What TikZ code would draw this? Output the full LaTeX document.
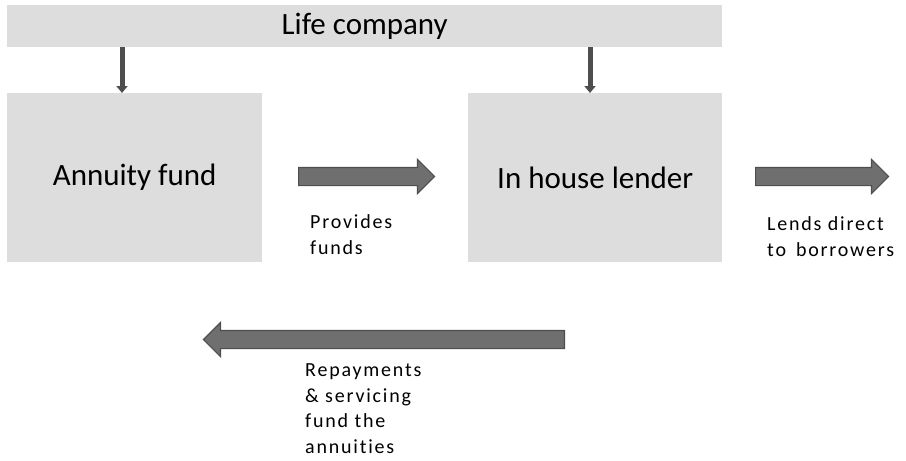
\documentclass[tikz,border=0pt]{standalone}
\usepackage{fontspec}
\setmainfont{Carlito}
\newfontfamily\lblfont[LetterSpace=9,Ligatures=NoCommon]{Carlito}
\usetikzlibrary{shapes.arrows,arrows.meta}
\definecolor{boxgray}{HTML}{DDDDDD}
\definecolor{arrfill}{HTML}{6F6F6F}
\definecolor{arredge}{HTML}{4E4E4E}
\begin{document}
\begin{tikzpicture}[x=1pt,y=-1pt,
  block/.style={fill=boxgray,draw=none,inner sep=0pt,font=\fontsize{31}{35}\selectfont},
  blockarrow/.style={single arrow,fill=arrfill,draw=arredge,line width=1.2pt,
    single arrow head extend=8pt,single arrow head indent=0pt,
    inner xsep=0pt,inner ysep=8.5pt,anchor=tail},
  downarrow/.style={draw=arredge,line width=5pt,
    -{Triangle[width=11pt,length=7pt]}},
  lbl/.style={anchor=base west,align=left,inner sep=0pt,
    font=\lblfont\fontsize{20}{25.5}\selectfont}]
\useasboundingbox (0,0) rectangle (906,461);

% company bar and the two units beneath it
\node[block,minimum width=715pt,minimum height=42pt,anchor=north west] (life) at (7,5) {Life company};
\node[block,minimum width=255pt,minimum height=169pt,anchor=north west] (annuity) at (7,93) {Annuity fund};
\node[block,minimum width=254pt,minimum height=169pt,anchor=north west] (lender) at (468,93) {In house lender};

% links from the company to each unit
\coordinate (la) at (122,47);
\coordinate (lb) at (590,47);
\draw[downarrow] (la) -- (la |- annuity.north);
\draw[downarrow] (lb) -- (lb |- lender.north);

% money flows
\node[blockarrow,minimum height=136pt] (provide) at (298,176.5) {};
\node[blockarrow,minimum height=133pt] (lend) at (755,176.5) {};
\node[blockarrow,minimum height=361pt,shape border rotate=180] (repay) at (565,339.5) {};

% captions (anchored at the baseline of the last line)
\node[lbl] (providetxt) at (310,254) {Provides\\funds};
\node[lbl] (lendtxt) at (767,256) {Lends direct\\to\hspace{0.5em}borrowers};
\node[lbl] (repaytxt) at (305,453) {Repayments\\\&\ servicing\\fund the\\annuities};
\end{tikzpicture}
\end{document}
